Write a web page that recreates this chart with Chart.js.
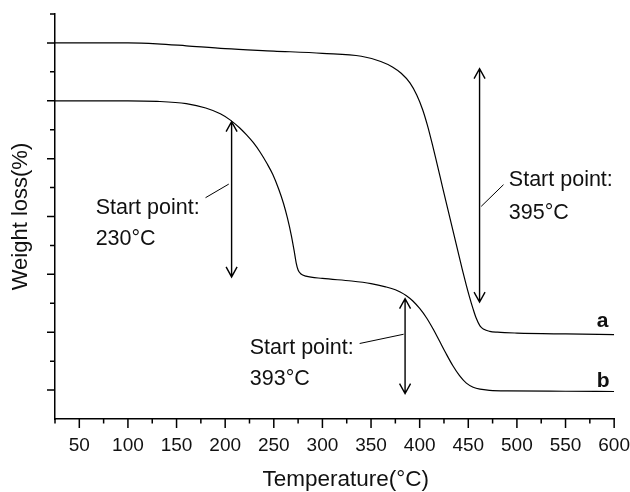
<!DOCTYPE html>
<html>
<head>
<meta charset="utf-8">
<script src="https://cdn.jsdelivr.net/npm/chart.js@4.4.1/dist/chart.umd.min.js"></script>
<style>
  html, body { margin: 0; padding: 0; background: #fff; }
  #wrap { width: 630px; height: 492px; position: relative; }
</style>
</head>
<body>
<div id="wrap"><canvas id="tga"></canvas></div>
<script>
// TGA curves (temperature in °C, weight in axis units, no labels on y)
const tempA = [25, 100, 130, 160, 200, 250, 300, 340, 360, 372, 381, 390, 397, 403, 408, 413, 418, 424, 429, 434, 439, 444, 448, 451, 455, 458, 462, 466, 472, 480, 500, 550, 600];
const weightA = [13, 13, 12.97, 12.9, 12.8, 12.72, 12.64, 12.54, 12.36, 12.17, 11.95, 11.62, 11.2, 10.7, 10.15, 9.5, 8.8, 7.95, 7.25, 6.55, 5.85, 5.15, 4.62, 4.25, 3.8, 3.5, 3.22, 3.1, 3.03, 3.0, 2.97, 2.94, 2.92];

const tempB = [25, 100, 130, 160, 180, 195, 205, 215, 222, 229, 236, 243, 249, 255, 260, 264, 268, 271, 273, 275, 278, 283, 300, 330, 350, 365, 375, 380, 386, 393, 400, 407, 414, 420, 427, 434, 441, 448, 455, 462, 472, 490, 550, 600];
const weightB = [11, 11, 10.98, 10.9, 10.75, 10.55, 10.34, 10.06, 9.82, 9.55, 9.22, 8.83, 8.45, 7.95, 7.45, 6.95, 6.35, 5.8, 5.4, 5.15, 5.01, 4.94, 4.86, 4.77, 4.68, 4.57, 4.47, 4.39, 4.27, 4.08, 3.82, 3.5, 3.1, 2.72, 2.27, 1.85, 1.5, 1.24, 1.1, 1.03, 0.99, 0.97, 0.96, 0.95];

const xTickValues = [50, 100, 150, 200, 250, 300, 350, 400, 450, 500, 550, 600];
const xMinorTicks = [25, 75, 125, 175, 225, 275, 325, 375, 425, 475, 525, 575];
const yMajorTicks = [1, 3, 5, 7, 9, 11, 13];
const yMinorTicks = [2, 4, 6, 8, 10, 12, 14];

// "Start point" notes, in data units
const arrowTemp = [206.6, 461.6, 385];
const arrowTop = [10.28, 12.11, 4.16];
const arrowBottom = [4.91, 4.04, 0.88];
const noteLine1 = ['Start point:', 'Start point:', 'Start point:'];
const noteLine2 = ['230°C', '395°C', '393°C'];
const noteX = [66.8, 491.7, 225.3];
const noteY1 = [7.10, 8.07, 2.26];
const noteY2 = [6.00, 6.93, 1.19];
const leaderFrom = [[179.8, 7.65], [486.2, 8.10], [338.3, 2.61]];
const leaderTo = [[203.7, 8.12], [463.3, 7.35], [383.5, 2.93]];

const curveNames = ['a', 'b'];
const curveNameX = [582, 582];
const curveNameY = [3.18, 1.11];

// x title sits a little right of the axis centre in the original
const xTitle = 'Temperature(°C)';
const xTitleCenter = 324;

const FONT = "'Liberation Sans', Arial, Helvetica, sans-serif";
Chart.defaults.font.family = FONT;
Chart.defaults.color = '#111';

function toPoints(xs, ys) {
  return xs.map((x, i) => ({ x: x, y: ys[i] }));
}

const notesPlugin = {
  id: 'notes',
  afterDraw(chart) {
    const ctx = chart.ctx;
    const xs = chart.scales.x;
    const ys = chart.scales.y;
    const px = v => xs.getPixelForValue(v);
    const py = v => ys.getPixelForValue(v);
    ctx.save();
    ctx.strokeStyle = '#000';

    // tick marks, long and short
    ctx.lineWidth = 1.5;
    const x0 = px(25), y0 = py(0);
    ctx.beginPath();
    xTickValues.forEach(v => { ctx.moveTo(px(v), y0); ctx.lineTo(px(v), y0 + 9); });
    xMinorTicks.forEach(v => { ctx.moveTo(px(v), y0); ctx.lineTo(px(v), y0 + 4.5); });
    yMajorTicks.forEach(v => { ctx.moveTo(x0, py(v)); ctx.lineTo(x0 - 8, py(v)); });
    yMinorTicks.forEach(v => { ctx.moveTo(x0, py(v)); ctx.lineTo(x0 - 5, py(v)); });
    ctx.stroke();

    // double arrows
    ctx.lineWidth = 1.4;
    for (let i = 0; i < arrowTemp.length; i++) {
      const ax = px(arrowTemp[i]);
      const top = py(arrowTop[i]);
      const bot = py(arrowBottom[i]);
      ctx.beginPath();
      ctx.moveTo(ax, top); ctx.lineTo(ax, bot);
      ctx.moveTo(ax - 5.5, top + 10); ctx.lineTo(ax, top); ctx.lineTo(ax + 5.5, top + 10);
      ctx.moveTo(ax - 5.5, bot - 10); ctx.lineTo(ax, bot); ctx.lineTo(ax + 5.5, bot - 10);
      ctx.stroke();
    }

    // leader lines
    ctx.lineWidth = 1;
    ctx.beginPath();
    for (let i = 0; i < leaderFrom.length; i++) {
      ctx.moveTo(px(leaderFrom[i][0]), py(leaderFrom[i][1]));
      ctx.lineTo(px(leaderTo[i][0]), py(leaderTo[i][1]));
    }
    ctx.stroke();

    // note text
    ctx.fillStyle = '#111';
    ctx.textAlign = 'left';
    ctx.textBaseline = 'alphabetic';
    ctx.font = '21.5px ' + FONT;
    for (let i = 0; i < noteX.length; i++) {
      ctx.fillText(noteLine1[i], px(noteX[i]), py(noteY1[i]));
      ctx.fillText(noteLine2[i], px(noteX[i]), py(noteY2[i]));
    }

    // curve names
    ctx.font = 'bold 21px ' + FONT;
    for (let i = 0; i < curveNames.length; i++) {
      ctx.fillText(curveNames[i], px(curveNameX[i]), py(curveNameY[i]));
    }

    // x axis title
    ctx.font = '22.5px ' + FONT;
    ctx.textAlign = 'center';
    ctx.fillText(xTitle, px(xTitleCenter), xs.bottom - 6);
    ctx.restore();
  }
};

new Chart(document.getElementById('tga'), {
  type: 'line',
  data: {
    datasets: [
      { label: 'a', data: toPoints(tempA, weightA) },
      { label: 'b', data: toPoints(tempB, weightB) }
    ]
  },
  options: {
    responsive: true,
    maintainAspectRatio: false,
    animation: false,
    layout: { padding: { left: 0, top: 14, right: 0, bottom: 0 } },
    elements: {
      line: { borderColor: '#000', borderWidth: 1.2, cubicInterpolationMode: 'monotone', fill: false },
      point: { radius: 0, hoverRadius: 0 }
    },
    plugins: { legend: { display: false }, tooltip: { enabled: false } },
    scales: {
      x: {
        type: 'linear',
        min: 25,
        max: 600,
        // tick marks are drawn by the plugin; these invisible ones only push the labels down
        grid: { display: true, drawOnChartArea: false, drawTicks: true, tickLength: 15, tickColor: 'rgba(0,0,0,0)' },
        border: { display: true, color: '#000', width: 1.5 },
        afterBuildTicks: scale => { scale.ticks = xTickValues.map(v => ({ value: v })); },
        afterFit: scale => { scale.height = 73; },
        ticks: { font: { size: 19 }, color: '#111', padding: 0, maxRotation: 0, callback: v => String(v) },
        title: { display: false }
      },
      y: {
        min: 0,
        max: 14,
        grid: { display: false },
        border: { display: true, color: '#000', width: 1.5 },
        ticks: { display: false },
        afterFit: scale => { scale.width = 55; },
        title: { display: true, text: 'Weight loss(%)', font: { size: 22 }, color: '#111', padding: { top: 8, bottom: 0 } }
      }
    }
  },
  plugins: [notesPlugin]
});
</script>
</body>
</html>
